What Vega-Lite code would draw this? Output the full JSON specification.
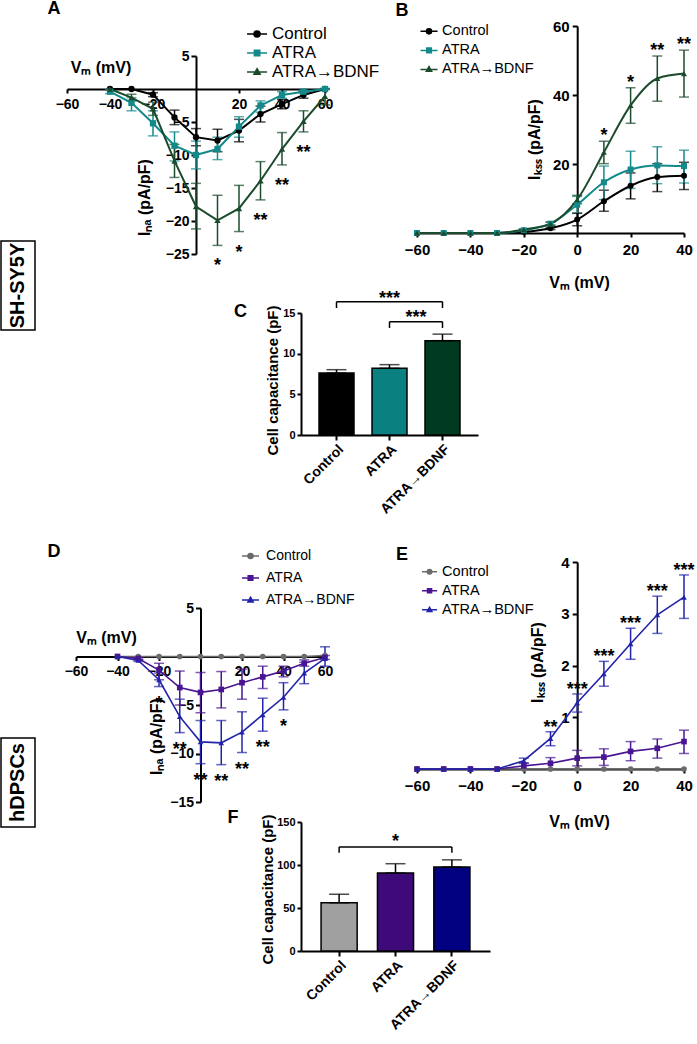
{
"$schema": "https://vega.github.io/schema/vega-lite/v6.json",
"padding": {"left": 0, "top": 0, "right": 3, "bottom": 3},
"background": "white",
"config": {
  "view": {"stroke": null},
  "font": "Liberation Sans",
  "axis": {"grid": false, "domainColor": "#000000", "domainWidth": 2, "tickColor": "#000000", "tickWidth": 2, "labelColor": "#000000", "labelFont": "Liberation Sans", "labelFontWeight": "bold", "titleFont": "Liberation Sans", "titleFontWeight": "bold", "titleColor": "#000000", "labelFlush": false, "labelOverlap": false},
  "text": {"font": "Liberation Sans", "color": "#000000"}
},
"datasets": {
  "A": [
    {"series":"Control","v":-40,"mean":0},
    {"series":"Control","v":-30,"mean":0},
    {"series":"Control","v":-20,"mean":-0.86,"lo":-1.16,"hi":-0.56},
    {"series":"Control","v":-10,"mean":-4.3,"lo":-5.4,"hi":-3.2},
    {"series":"Control","v":0,"mean":-7.3,"lo":-8.6,"hi":-6.0},
    {"series":"Control","v":10,"mean":-7.8,"lo":-9.5,"hi":-6.1},
    {"series":"Control","v":20,"mean":-6.3,"lo":-8.0,"hi":-4.6},
    {"series":"Control","v":30,"mean":-3.8,"lo":-5.0,"hi":-2.6},
    {"series":"Control","v":40,"mean":-2.3,"lo":-3.0,"hi":-1.6},
    {"series":"Control","v":50,"mean":-0.9,"lo":-1.4,"hi":-0.4},
    {"series":"Control","v":60,"mean":0},
    {"series":"ATRA","v":-40,"mean":-0.4,"lo":-0.7,"hi":-0.1},
    {"series":"ATRA","v":-30,"mean":-2.1,"lo":-3.3,"hi":-1.3},
    {"series":"ATRA","v":-20,"mean":-5.2,"lo":-7.1,"hi":-3.3},
    {"series":"ATRA","v":-10,"mean":-8.6,"lo":-10.9,"hi":-6.5},
    {"series":"ATRA","v":0,"mean":-10.0,"lo":-12.1,"hi":-7.9},
    {"series":"ATRA","v":10,"mean":-9.1,"lo":-10.7,"hi":-7.3},
    {"series":"ATRA","v":20,"mean":-5.7,"lo":-7.3,"hi":-4.2},
    {"series":"ATRA","v":30,"mean":-2.5,"lo":-3.5,"hi":-1.8},
    {"series":"ATRA","v":40,"mean":-0.9,"lo":-1.4,"hi":-0.4},
    {"series":"ATRA","v":50,"mean":-0.4,"lo":-0.6,"hi":-0.2},
    {"series":"ATRA","v":60,"mean":0,"lo":-0.1,"hi":0.1},
    {"series":"ATRA\u2192BDNF","v":-40,"mean":0},
    {"series":"ATRA\u2192BDNF","v":-30,"mean":-1.3,"lo":-1.8,"hi":-0.8},
    {"series":"ATRA\u2192BDNF","v":-20,"mean":-3.0,"lo":-4.0,"hi":-2.0},
    {"series":"ATRA\u2192BDNF","v":-10,"mean":-10.9,"lo":-13.4,"hi":-8.4},
    {"series":"ATRA\u2192BDNF","v":0,"mean":-17.8,"lo":-21.2,"hi":-14.3},
    {"series":"ATRA\u2192BDNF","v":10,"mean":-19.9,"lo":-23.7,"hi":-16.1,"sig":"*"},
    {"series":"ATRA\u2192BDNF","v":20,"mean":-18.1,"lo":-21.6,"hi":-14.6,"sig":"*"},
    {"series":"ATRA\u2192BDNF","v":30,"mean":-13.9,"lo":-16.8,"hi":-11.0,"sig":"**"},
    {"series":"ATRA\u2192BDNF","v":40,"mean":-9.1,"lo":-11.5,"hi":-6.6,"sig":"**"},
    {"series":"ATRA\u2192BDNF","v":50,"mean":-4.9,"lo":-6.5,"hi":-3.3,"sig":"**"},
    {"series":"ATRA\u2192BDNF","v":60,"mean":-1.1,"lo":-2.4,"hi":0}
  ],
  "B": [
    {"series":"Control","v":-60,"mean":0},
    {"series":"Control","v":-50,"mean":0},
    {"series":"Control","v":-40,"mean":0},
    {"series":"Control","v":-30,"mean":0},
    {"series":"Control","v":-20,"mean":0.3,"lo":0.1,"hi":0.5},
    {"series":"Control","v":-10,"mean":1.35,"lo":1.0,"hi":1.7},
    {"series":"Control","v":0,"mean":3.9,"lo":2.1,"hi":5.7},
    {"series":"Control","v":10,"mean":9.2,"lo":6.3,"hi":12.4},
    {"series":"Control","v":20,"mean":13.7,"lo":9.9,"hi":17.4},
    {"series":"Control","v":30,"mean":16.2,"lo":12.0,"hi":20.1},
    {"series":"Control","v":40,"mean":16.6,"lo":12.6,"hi":20.5},
    {"series":"ATRA","v":-60,"mean":0},
    {"series":"ATRA","v":-50,"mean":0},
    {"series":"ATRA","v":-40,"mean":0},
    {"series":"ATRA","v":-30,"mean":0},
    {"series":"ATRA","v":-20,"mean":0.8,"lo":0.6,"hi":1.0},
    {"series":"ATRA","v":-10,"mean":2.7,"lo":2.2,"hi":3.2},
    {"series":"ATRA","v":0,"mean":8.2,"lo":5.8,"hi":10.6},
    {"series":"ATRA","v":10,"mean":14.7,"lo":9.7,"hi":19.4},
    {"series":"ATRA","v":20,"mean":18.4,"lo":12.9,"hi":23.7},
    {"series":"ATRA","v":30,"mean":19.6,"lo":14.3,"hi":25.0},
    {"series":"ATRA","v":40,"mean":19.4,"lo":14.5,"hi":24.0},
    {"series":"ATRA\u2192BDNF","v":-60,"mean":0},
    {"series":"ATRA\u2192BDNF","v":-50,"mean":0},
    {"series":"ATRA\u2192BDNF","v":-40,"mean":0},
    {"series":"ATRA\u2192BDNF","v":-30,"mean":0},
    {"series":"ATRA\u2192BDNF","v":-20,"mean":1.0,"lo":0.8,"hi":1.2},
    {"series":"ATRA\u2192BDNF","v":-10,"mean":2.7,"lo":2.3,"hi":3.1},
    {"series":"ATRA\u2192BDNF","v":0,"mean":9.7,"lo":8.5,"hi":10.9},
    {"series":"ATRA\u2192BDNF","v":10,"mean":23.4,"lo":20.1,"hi":26.6,"sig":"*"},
    {"series":"ATRA\u2192BDNF","v":20,"mean":37.0,"lo":31.8,"hi":42.1,"sig":"*"},
    {"series":"ATRA\u2192BDNF","v":30,"mean":44.8,"lo":38.2,"hi":51.3,"sig":"**"},
    {"series":"ATRA\u2192BDNF","v":40,"mean":46.2,"lo":39.4,"hi":53.0,"sig":"**"}
  ],
  "D": [
    {"series":"Control","v":-40,"mean":0},
    {"series":"Control","v":-30,"mean":0},
    {"series":"Control","v":-20,"mean":0},
    {"series":"Control","v":-10,"mean":0},
    {"series":"Control","v":0,"mean":0},
    {"series":"Control","v":10,"mean":0},
    {"series":"Control","v":20,"mean":0},
    {"series":"Control","v":30,"mean":0},
    {"series":"Control","v":40,"mean":0},
    {"series":"Control","v":50,"mean":0},
    {"series":"Control","v":60,"mean":0.1},
    {"series":"ATRA","v":-40,"mean":0},
    {"series":"ATRA","v":-30,"mean":-0.2,"lo":-0.3,"hi":-0.1},
    {"series":"ATRA","v":-20,"mean":-1.4,"lo":-2.4,"hi":-0.7},
    {"series":"ATRA","v":-10,"mean":-3.2,"lo":-5.0,"hi":-1.5},
    {"series":"ATRA","v":0,"mean":-3.7,"lo":-5.8,"hi":-1.65},
    {"series":"ATRA","v":10,"mean":-3.4,"lo":-5.3,"hi":-1.55},
    {"series":"ATRA","v":20,"mean":-2.7,"lo":-4.4,"hi":-1.3},
    {"series":"ATRA","v":30,"mean":-2.1,"lo":-3.3,"hi":-1.0},
    {"series":"ATRA","v":40,"mean":-1.5,"lo":-2.1,"hi":-1.0},
    {"series":"ATRA","v":50,"mean":-0.7,"lo":-1.0,"hi":-0.35},
    {"series":"ATRA","v":60,"mean":-0.1,"lo":-0.3,"hi":0.1},
    {"series":"ATRA\u2192BDNF","v":-40,"mean":0},
    {"series":"ATRA\u2192BDNF","v":-30,"mean":-0.4,"lo":-0.5,"hi":-0.3},
    {"series":"ATRA\u2192BDNF","v":-20,"mean":-2.4,"lo":-3.1,"hi":-1.7,"sig":"*"},
    {"series":"ATRA\u2192BDNF","v":-10,"mean":-6.2,"lo":-7.85,"hi":-4.4,"sig":"**"},
    {"series":"ATRA\u2192BDNF","v":0,"mean":-8.8,"lo":-11.05,"hi":-6.6,"sig":"**"},
    {"series":"ATRA\u2192BDNF","v":10,"mean":-8.9,"lo":-11.15,"hi":-6.6,"sig":"**"},
    {"series":"ATRA\u2192BDNF","v":20,"mean":-7.8,"lo":-9.9,"hi":-5.7,"sig":"**"},
    {"series":"ATRA\u2192BDNF","v":30,"mean":-6.0,"lo":-7.7,"hi":-4.3,"sig":"**"},
    {"series":"ATRA\u2192BDNF","v":40,"mean":-4.2,"lo":-5.5,"hi":-2.7,"sig":"*"},
    {"series":"ATRA\u2192BDNF","v":50,"mean":-1.7,"lo":-2.8,"hi":-0.6},
    {"series":"ATRA\u2192BDNF","v":60,"mean":-0.2,"lo":-1.0,"hi":1.0}
  ],
  "E": [
    {"series":"Control","v":-60,"mean":0},
    {"series":"Control","v":-50,"mean":0},
    {"series":"Control","v":-40,"mean":0},
    {"series":"Control","v":-30,"mean":0},
    {"series":"Control","v":-20,"mean":0},
    {"series":"Control","v":-10,"mean":0},
    {"series":"Control","v":0,"mean":0},
    {"series":"Control","v":10,"mean":0},
    {"series":"Control","v":20,"mean":0},
    {"series":"Control","v":30,"mean":0},
    {"series":"Control","v":40,"mean":0},
    {"series":"ATRA","v":-60,"mean":0},
    {"series":"ATRA","v":-50,"mean":0},
    {"series":"ATRA","v":-40,"mean":0},
    {"series":"ATRA","v":-30,"mean":0},
    {"series":"ATRA","v":-20,"mean":0.06,"lo":0.0,"hi":0.12},
    {"series":"ATRA","v":-10,"mean":0.11,"lo":0.0,"hi":0.22},
    {"series":"ATRA","v":0,"mean":0.21,"lo":0.06,"hi":0.36},
    {"series":"ATRA","v":10,"mean":0.23,"lo":0.07,"hi":0.39},
    {"series":"ATRA","v":20,"mean":0.34,"lo":0.16,"hi":0.53},
    {"series":"ATRA","v":30,"mean":0.40,"lo":0.21,"hi":0.58},
    {"series":"ATRA","v":40,"mean":0.53,"lo":0.30,"hi":0.75},
    {"series":"ATRA\u2192BDNF","v":-60,"mean":0},
    {"series":"ATRA\u2192BDNF","v":-50,"mean":0},
    {"series":"ATRA\u2192BDNF","v":-40,"mean":0},
    {"series":"ATRA\u2192BDNF","v":-30,"mean":0},
    {"series":"ATRA\u2192BDNF","v":-20,"mean":0.16,"lo":0.11,"hi":0.21},
    {"series":"ATRA\u2192BDNF","v":-10,"mean":0.59,"lo":0.45,"hi":0.72,"sig":"**"},
    {"series":"ATRA\u2192BDNF","v":0,"mean":1.28,"lo":1.10,"hi":1.45,"sig":"***"},
    {"series":"ATRA\u2192BDNF","v":10,"mean":1.84,"lo":1.60,"hi":2.08,"sig":"***"},
    {"series":"ATRA\u2192BDNF","v":20,"mean":2.42,"lo":2.12,"hi":2.72,"sig":"***"},
    {"series":"ATRA\u2192BDNF","v":30,"mean":2.98,"lo":2.62,"hi":3.34,"sig":"***"},
    {"series":"ATRA\u2192BDNF","v":40,"mean":3.32,"lo":2.91,"hi":3.75,"sig":"***"}
  ],
  "C": [
    {"group":"Control","mean":7.62,"hi":8.03},
    {"group":"ATRA","mean":8.2,"hi":8.65},
    {"group":"ATRA\u2192BDNF","mean":11.6,"hi":12.4}
  ],
  "F": [
    {"group":"Control","mean":56,"hi":66},
    {"group":"ATRA","mean":90.7,"hi":101.5},
    {"group":"ATRA\u2192BDNF","mean":97.7,"hi":106}
  ]
},
"columns": 3,
"align": "each",
"bounds": "flush",
"spacing": 0,
"resolve": {"scale": {"color": "independent", "shape": "independent"}},
"concat": [
  {"width": 1, "height": 1, "data": {"values": []}, "mark": "point"},
  {
    "width": 266, "height": 215,
    "layer": [
      {"data": {"name": "A"}, "mark": {"type": "errorbar", "thickness": 1.5, "ticks": {"size": 10, "thickness": 1.5}},
       "encoding": {
         "x": {"field": "v", "type": "quantitative", "scale": {"domain": [-60, 60], "range": [32, 290], "nice": false, "zero": false},
               "axis": {"offset": -152, "values": [-60, -40, -20, 20, 40, 60], "labelFontSize": 14, "tickSize": 4, "labelPadding": 4, "title": "V\u2098 (mV)", "titleFontSize": 16, "titleX": 65.5, "titleY": -22, "titleAngle": 0, "titleAlign": "center", "titleBaseline": "middle"}},
         "y": {"field": "lo", "type": "quantitative", "scale": {"domain": [-25, 5], "range": [228, 30], "nice": false, "zero": false},
               "axis": {"offset": -161, "values": [5, -5, -10, -15, -20, -25], "labelFontSize": 14, "tickSize": 5, "labelPadding": 2, "title": "I\u2099\u2090 (pA/pF)", "titleFontSize": 16, "titleX": -52, "titleY": 171, "titleAngle": 270, "titleAlign": "center", "titleBaseline": "middle"}},
         "y2": {"field": "hi"},
         "color": {"field": "series", "type": "nominal", "scale": {"domain": ["Control", "ATRA", "ATRA\u2192BDNF"], "range": ["#000000", "#12898A", "#1B4B2C"]}, "legend": null}
       }},
      {"data": {"name": "A"}, "mark": {"type": "line", "strokeWidth": 2},
       "encoding": {"x": {"field": "v", "type": "quantitative"}, "y": {"field": "mean", "type": "quantitative", "title": "I\u2099\u2090 (pA/pF)"}, "color": {"field": "series", "type": "nominal", "legend": null}}},
      {"data": {"name": "A"}, "mark": {"type": "point", "filled": true, "size": 40, "opacity": 1},
       "encoding": {"x": {"field": "v", "type": "quantitative"}, "y": {"field": "mean", "type": "quantitative", "title": "I\u2099\u2090 (pA/pF)"}, "color": {"field": "series", "type": "nominal", "legend": null},
         "shape": {"field": "series", "type": "nominal", "scale": {"domain": ["Control", "ATRA", "ATRA\u2192BDNF"], "range": ["circle", "square", "triangle-up"]}, "legend": null}}},
      {"data": {"name": "A"}, "transform": [{"filter": "datum.sig"}], "mark": {"type": "text", "fontSize": 18, "fontWeight": "bold", "baseline": "alphabetic", "dy": 26},
       "encoding": {"x": {"field": "v", "type": "quantitative"}, "y": {"field": "lo", "type": "quantitative"}, "text": {"field": "sig"}}},
      {"data": {"values": [{}]}, "mark": {"type": "text", "text": "A", "fontSize": 18, "fontWeight": "bold", "baseline": "middle", "align": "center"}, "encoding": {"x": {"datum": -66}, "y": {"datum": 12.05}}},
      {"data": {"values": [{}]}, "mark": {"type": "point", "shape": "M-1,0L1,0M-0.3,0A0.3,0.3,0,1,1,0.3,0A0.3,0.3,0,1,1,-0.3,0Z", "filled": true, "color": "#000000", "stroke": "#000000", "strokeWidth": 1.5, "size": 400, "opacity": 1}, "encoding": {"x": {"datum": 28.4}, "y": {"datum": 8.33}}},
      {"data": {"values": [{}]}, "mark": {"type": "text", "text": "Control", "align": "left", "baseline": "middle", "fontSize": 17}, "encoding": {"x": {"datum": 35.3}, "y": {"datum": 8.33}}},
      {"data": {"values": [{}]}, "mark": {"type": "point", "shape": "M-1,0L1,0M-0.27,-0.27L0.27,-0.27L0.27,0.27L-0.27,0.27Z", "filled": true, "color": "#12898A", "stroke": "#12898A", "strokeWidth": 1.5, "size": 400, "opacity": 1}, "encoding": {"x": {"datum": 28.4}, "y": {"datum": 5.45}}},
      {"data": {"values": [{}]}, "mark": {"type": "text", "text": "ATRA", "align": "left", "baseline": "middle", "fontSize": 17}, "encoding": {"x": {"datum": 35.3}, "y": {"datum": 5.45}}},
      {"data": {"values": [{}]}, "mark": {"type": "point", "shape": "M-1,0L1,0M0,-0.33L0.31,0.22L-0.31,0.22Z", "filled": true, "color": "#1B4B2C", "stroke": "#1B4B2C", "strokeWidth": 1.5, "size": 400, "opacity": 1}, "encoding": {"x": {"datum": 28.4}, "y": {"datum": 2.58}}},
      {"data": {"values": [{}]}, "mark": {"type": "text", "text": "ATRA\u2192BDNF", "align": "left", "baseline": "middle", "fontSize": 17}, "encoding": {"x": {"datum": 35.3}, "y": {"datum": 2.58}}}
    ]
  },
  {
    "width": 383, "height": 207,
    "layer": [
      {"data": {"name": "B"}, "mark": {"type": "errorbar", "thickness": 1.5, "ticks": {"size": 10, "thickness": 1.5}},
       "encoding": {
         "x": {"field": "v", "type": "quantitative", "scale": {"domain": [-60, 40], "range": [116, 383], "nice": false, "zero": false},
               "axis": {"values": [-60, -40, -20, 0, 20, 40], "labelFontSize": 15, "tickSize": 4, "labelPadding": 5, "title": "V\u2098 (mV)", "titleFontSize": 16, "titleX": 278, "titleY": 49, "titleAngle": 0, "titleAlign": "center", "titleBaseline": "middle"}},
         "y": {"field": "lo", "type": "quantitative", "scale": {"domain": [0, 60], "nice": false, "zero": false},
               "axis": {"offset": -276.2, "values": [20, 40, 60], "labelFontSize": 15, "tickSize": 5, "labelPadding": 3, "title": "I\u2096\u209b\u209b (pA/pF)", "titleFontSize": 16, "titleX": -43, "titleY": 113, "titleAngle": 270, "titleAlign": "center", "titleBaseline": "middle"}},
         "y2": {"field": "hi"},
         "color": {"field": "series", "type": "nominal", "scale": {"domain": ["Control", "ATRA", "ATRA\u2192BDNF"], "range": ["#000000", "#12898A", "#1B4B2C"]}, "legend": null}
       }},
      {"data": {"name": "B"}, "mark": {"type": "line", "strokeWidth": 2, "interpolate": "monotone"},
       "encoding": {"x": {"field": "v", "type": "quantitative"}, "y": {"field": "mean", "type": "quantitative", "title": "I\u2096\u209b\u209b (pA/pF)"}, "color": {"field": "series", "type": "nominal", "legend": null}}},
      {"data": {"name": "B"}, "mark": {"type": "point", "filled": true, "size": 36, "opacity": 1},
       "encoding": {"x": {"field": "v", "type": "quantitative"}, "y": {"field": "mean", "type": "quantitative", "title": "I\u2096\u209b\u209b (pA/pF)"}, "color": {"field": "series", "type": "nominal", "legend": null},
         "shape": {"field": "series", "type": "nominal", "scale": {"domain": ["Control", "ATRA", "ATRA\u2192BDNF"], "range": ["circle", "square", "triangle-up"]}, "legend": null}}},
      {"data": {"name": "B"}, "transform": [{"filter": "datum.sig"}], "mark": {"type": "text", "fontSize": 18, "fontWeight": "bold", "baseline": "alphabetic", "dy": 0},
       "encoding": {"x": {"field": "v", "type": "quantitative"}, "y": {"field": "hi", "type": "quantitative"}, "text": {"field": "sig"}}},
      {"data": {"values": [{}]}, "mark": {"type": "text", "text": "B", "fontSize": 18, "fontWeight": "bold", "baseline": "middle", "align": "center"}, "encoding": {"x": {"datum": -65.6}, "y": {"datum": 64.22}}},
      {"data": {"values": [{}]}, "mark": {"type": "point", "shape": "M-1,0L1,0M-0.3,0A0.3,0.3,0,1,1,0.3,0A0.3,0.3,0,1,1,-0.3,0Z", "filled": true, "color": "#000000", "stroke": "#000000", "strokeWidth": 1.5, "size": 290, "opacity": 1}, "encoding": {"x": {"datum": -55.5}, "y": {"datum": 58.45}}},
      {"data": {"values": [{}]}, "mark": {"type": "text", "text": "Control", "align": "left", "baseline": "middle", "fontSize": 14.5}, "encoding": {"x": {"datum": -50.6}, "y": {"datum": 58.45}}},
      {"data": {"values": [{}]}, "mark": {"type": "point", "shape": "M-1,0L1,0M-0.27,-0.27L0.27,-0.27L0.27,0.27L-0.27,0.27Z", "filled": true, "color": "#12898A", "stroke": "#12898A", "strokeWidth": 1.5, "size": 290, "opacity": 1}, "encoding": {"x": {"datum": -55.5}, "y": {"datum": 52.93}}},
      {"data": {"values": [{}]}, "mark": {"type": "text", "text": "ATRA", "align": "left", "baseline": "middle", "fontSize": 14.5}, "encoding": {"x": {"datum": -50.6}, "y": {"datum": 52.93}}},
      {"data": {"values": [{}]}, "mark": {"type": "point", "shape": "M-1,0L1,0M0,-0.33L0.31,0.22L-0.31,0.22Z", "filled": true, "color": "#1B4B2C", "stroke": "#1B4B2C", "strokeWidth": 1.5, "size": 290, "opacity": 1}, "encoding": {"x": {"datum": -55.5}, "y": {"datum": 47.41}}},
      {"data": {"values": [{}]}, "mark": {"type": "text", "text": "ATRA\u2192BDNF", "align": "left", "baseline": "middle", "fontSize": 14.5}, "encoding": {"x": {"datum": -50.6}, "y": {"datum": 47.41}}}
    ]
  },
  {"width": 34, "height": 89, "view": {"stroke": "#000000", "strokeWidth": 1.5}, "data": {"values": [{}]}, "mark": {"type": "text", "text": "SH-SY5Y", "angle": 270, "fontSize": 20, "fontWeight": "bold", "align": "center", "baseline": "middle"}},
  {"width": 1, "height": 1, "data": {"values": []}, "mark": "point"},
  {
    "width": 177, "height": 194,
    "layer": [
      {"data": {"name": "C"}, "mark": {"type": "bar", "stroke": "#000000", "strokeWidth": 1.5},
       "encoding": {
         "x": {"field": "group", "type": "nominal", "sort": null, "scale": {"paddingInner": 0.34, "paddingOuter": 0.34},
               "axis": {"labelAngle": -45, "labelFontSize": 14, "tickSize": 5, "labelPadding": 2, "title": null}},
         "y": {"field": "mean", "type": "quantitative", "title": "Cell capacitance (pF)", "scale": {"domain": [0, 15], "range": [194, 72], "nice": false},
               "axis": {"values": [0, 5, 10, 15], "labelFontSize": 11, "tickSize": 4, "labelPadding": 2, "title": "Cell capacitance (pF)", "titleFontSize": 15, "titleX": -29, "titleY": 139, "titleAngle": 270, "titleAlign": "center", "titleBaseline": "middle"}},
         "color": {"field": "group", "type": "nominal", "scale": {"domain": ["Control", "ATRA", "ATRA\u2192BDNF"], "range": ["#000000", "#0B8081", "#003A20"]}, "legend": null}
       }},
      {"data": {"name": "C"}, "mark": {"type": "errorbar", "thickness": 1.5, "color": "#000000", "ticks": {"size": 20, "thickness": 1.5}},
       "encoding": {"x": {"field": "group", "type": "nominal", "sort": null}, "y": {"field": "mean", "type": "quantitative", "title": "Cell capacitance (pF)"}, "y2": {"field": "hi"}}},
      {"data": {"values": [{}]}, "mark": {"type": "rule", "strokeWidth": 1.5, "color": "#000000"}, "encoding": {"x": {"datum": "Control"}, "x2": {"datum": "ATRA\u2192BDNF"}, "y": {"datum": 16.39}}},
      {"data": {"values": [{}]}, "mark": {"type": "rule", "strokeWidth": 1.5, "color": "#000000"}, "encoding": {"x": {"datum": "Control"}, "y": {"datum": 16.39}, "y2": {"datum": 15.61}}},
      {"data": {"values": [{}]}, "mark": {"type": "rule", "strokeWidth": 1.5, "color": "#000000"}, "encoding": {"x": {"datum": "ATRA\u2192BDNF"}, "y": {"datum": 16.39}, "y2": {"datum": 15.61}}},
      {"data": {"values": [{}]}, "mark": {"type": "rule", "strokeWidth": 1.5, "color": "#000000"}, "encoding": {"x": {"datum": "ATRA"}, "x2": {"datum": "ATRA\u2192BDNF"}, "y": {"datum": 13.93}}},
      {"data": {"values": [{}]}, "mark": {"type": "rule", "strokeWidth": 1.5, "color": "#000000"}, "encoding": {"x": {"datum": "ATRA"}, "y": {"datum": 13.93}, "y2": {"datum": 13.16}}},
      {"data": {"values": [{}]}, "mark": {"type": "rule", "strokeWidth": 1.5, "color": "#000000"}, "encoding": {"x": {"datum": "ATRA\u2192BDNF"}, "y": {"datum": 13.93}, "y2": {"datum": 13.16}}},
      {"data": {"values": [{}]}, "mark": {"type": "text", "text": "***", "fontSize": 18, "fontWeight": "bold", "baseline": "alphabetic", "dy": 2}, "encoding": {"x": {"datum": "ATRA"}, "y": {"datum": 16.39}}},
      {"data": {"values": [{}]}, "mark": {"type": "text", "text": "***", "fontSize": 18, "fontWeight": "bold", "baseline": "alphabetic", "dy": 1, "dx": 26.5}, "encoding": {"x": {"datum": "ATRA"}, "y": {"datum": 13.93}}},
      {"data": {"values": [{}]}, "mark": {"type": "text", "text": "C", "fontSize": 18, "fontWeight": "bold", "baseline": "middle", "align": "center", "dx": -96}, "encoding": {"x": {"datum": "Control"}, "y": {"datum": 15.12}}}
    ]
  },
  {"width": 1, "height": 1, "data": {"values": []}, "mark": "point"},
  {
    "width": 266, "height": 303,
    "layer": [
      {"data": {"name": "D"}, "mark": {"type": "errorbar", "thickness": 1.5, "ticks": {"size": 10, "thickness": 1.5}},
       "encoding": {
         "x": {"field": "v", "type": "quantitative", "scale": {"domain": [-60, 60], "range": [41, 290], "nice": false, "zero": false},
               "axis": {"offset": -81.5, "values": [-60, -40, -20, 20, 40, 60], "labelFontSize": 14, "tickSize": 4, "labelPadding": 4, "title": "V\u2098 (mV)", "titleFontSize": 16, "titleX": 71, "titleY": -19.5, "titleAngle": 0, "titleAlign": "center", "titleBaseline": "middle"}},
         "y": {"field": "lo", "type": "quantitative", "scale": {"domain": [-15, 5], "range": [367, 173], "nice": false, "zero": false},
               "axis": {"offset": -165.5, "values": [5, -5, -10, -15], "labelFontSize": 14, "tickSize": 5, "labelPadding": 2, "title": "I\u2099\u2090 (pA/pF)", "titleFontSize": 16, "titleX": -44.5, "titleY": 301, "titleAngle": 270, "titleAlign": "center", "titleBaseline": "middle"}},
         "y2": {"field": "hi"},
         "color": {"field": "series", "type": "nominal", "scale": {"domain": ["Control", "ATRA", "ATRA\u2192BDNF"], "range": ["#6B6B6B", "#4A1590", "#2224A8"]}, "legend": null}
       }},
      {"data": {"name": "D"}, "mark": {"type": "line", "strokeWidth": 1.6},
       "encoding": {"x": {"field": "v", "type": "quantitative"}, "y": {"field": "mean", "type": "quantitative", "title": "I\u2099\u2090 (pA/pF)"}, "color": {"field": "series", "type": "nominal", "legend": null}}},
      {"data": {"name": "D"}, "mark": {"type": "point", "filled": true, "size": 32, "opacity": 1},
       "encoding": {"x": {"field": "v", "type": "quantitative"}, "y": {"field": "mean", "type": "quantitative", "title": "I\u2099\u2090 (pA/pF)"}, "color": {"field": "series", "type": "nominal", "legend": null},
         "shape": {"field": "series", "type": "nominal", "scale": {"domain": ["Control", "ATRA", "ATRA\u2192BDNF"], "range": ["circle", "square", "triangle-up"]}, "legend": null}}},
      {"data": {"name": "D"}, "transform": [{"filter": "datum.sig"}], "mark": {"type": "text", "fontSize": 18, "fontWeight": "bold", "baseline": "alphabetic", "dy": 22},
       "encoding": {"x": {"field": "v", "type": "quantitative"}, "y": {"field": "lo", "type": "quantitative"}, "text": {"field": "sig"}}},
      {"data": {"values": [{}]}, "mark": {"type": "text", "text": "D", "fontSize": 18, "fontWeight": "bold", "baseline": "middle", "align": "center"}, "encoding": {"x": {"datum": -70.6}, "y": {"datum": 10.77}}},
      {"data": {"values": [{}]}, "mark": {"type": "point", "shape": "M-1,0L1,0M-0.3,0A0.3,0.3,0,1,1,0.3,0A0.3,0.3,0,1,1,-0.3,0Z", "filled": true, "color": "#6B6B6B", "stroke": "#6B6B6B", "strokeWidth": 1.5, "size": 289, "opacity": 1}, "encoding": {"x": {"datum": 24.1}, "y": {"datum": 10.36}}},
      {"data": {"values": [{}]}, "mark": {"type": "text", "text": "Control", "align": "left", "baseline": "middle", "fontSize": 14}, "encoding": {"x": {"datum": 31.6}, "y": {"datum": 10.36}}},
      {"data": {"values": [{}]}, "mark": {"type": "point", "shape": "M-1,0L1,0M-0.27,-0.27L0.27,-0.27L0.27,0.27L-0.27,0.27Z", "filled": true, "color": "#4A1590", "stroke": "#4A1590", "strokeWidth": 1.5, "size": 289, "opacity": 1}, "encoding": {"x": {"datum": 24.1}, "y": {"datum": 8.09}}},
      {"data": {"values": [{}]}, "mark": {"type": "text", "text": "ATRA", "align": "left", "baseline": "middle", "fontSize": 14}, "encoding": {"x": {"datum": 31.6}, "y": {"datum": 8.09}}},
      {"data": {"values": [{}]}, "mark": {"type": "point", "shape": "M-1,0L1,0M0,-0.33L0.31,0.22L-0.31,0.22Z", "filled": true, "color": "#2224A8", "stroke": "#2224A8", "strokeWidth": 1.5, "size": 289, "opacity": 1}, "encoding": {"x": {"datum": 24.1}, "y": {"datum": 5.82}}},
      {"data": {"values": [{}]}, "mark": {"type": "text", "text": "ATRA\u2192BDNF", "align": "left", "baseline": "middle", "fontSize": 14}, "encoding": {"x": {"datum": 31.6}, "y": {"datum": 5.82}}}
    ]
  },
  {
    "width": 383, "height": 303,
    "layer": [
      {"data": {"name": "E"}, "mark": {"type": "errorbar", "thickness": 1.5, "ticks": {"size": 10, "thickness": 1.5}},
       "encoding": {
         "x": {"field": "v", "type": "quantitative", "scale": {"domain": [-60, 40], "range": [116, 383], "nice": false, "zero": false},
               "axis": {"offset": 31, "values": [-60, -40, -20, 0, 20, 40], "labelFontSize": 15, "tickSize": 4, "labelPadding": 5, "title": "V\u2098 (mV)", "titleFontSize": 16, "titleX": 278, "titleY": 52, "titleAngle": 0, "titleAlign": "center", "titleBaseline": "middle"}},
         "y": {"field": "lo", "type": "quantitative", "scale": {"domain": [0, 4], "range": [334, 127], "nice": false, "zero": false},
               "axis": {"offset": -276.2, "values": [1, 2, 3, 4], "format": "d", "labelFontSize": 15, "tickSize": 5, "labelPadding": 3, "title": "I\u2096\u209b\u209b (pA/pF)", "titleFontSize": 16, "titleX": -40, "titleY": 227, "titleAngle": 270, "titleAlign": "center", "titleBaseline": "middle"}},
         "y2": {"field": "hi"},
         "color": {"field": "series", "type": "nominal", "scale": {"domain": ["Control", "ATRA", "ATRA\u2192BDNF"], "range": ["#6B6B6B", "#4A1590", "#2224A8"]}, "legend": null}
       }},
      {"data": {"name": "E"}, "mark": {"type": "line", "strokeWidth": 1.6},
       "encoding": {"x": {"field": "v", "type": "quantitative"}, "y": {"field": "mean", "type": "quantitative", "title": "I\u2096\u209b\u209b (pA/pF)"}, "color": {"field": "series", "type": "nominal", "legend": null}}},
      {"data": {"name": "E"}, "mark": {"type": "point", "filled": true, "size": 32, "opacity": 1},
       "encoding": {"x": {"field": "v", "type": "quantitative"}, "y": {"field": "mean", "type": "quantitative", "title": "I\u2096\u209b\u209b (pA/pF)"}, "color": {"field": "series", "type": "nominal", "legend": null},
         "shape": {"field": "series", "type": "nominal", "scale": {"domain": ["Control", "ATRA", "ATRA\u2192BDNF"], "range": ["circle", "square", "triangle-up"]}, "legend": null}}},
      {"data": {"name": "E"}, "transform": [{"filter": "datum.sig"}], "mark": {"type": "text", "fontSize": 18, "fontWeight": "bold", "baseline": "alphabetic", "dy": 1},
       "encoding": {"x": {"field": "v", "type": "quantitative"}, "y": {"field": "hi", "type": "quantitative"}, "text": {"field": "sig"}}},
      {"data": {"values": [{}]}, "mark": {"type": "text", "text": "E", "fontSize": 18, "fontWeight": "bold", "baseline": "middle", "align": "center"}, "encoding": {"x": {"datum": -65.6}, "y": {"datum": 4.14}}},
      {"data": {"values": [{}]}, "mark": {"type": "point", "shape": "M-1,0L1,0M-0.3,0A0.3,0.3,0,1,1,0.3,0A0.3,0.3,0,1,1,-0.3,0Z", "filled": true, "color": "#6B6B6B", "stroke": "#6B6B6B", "strokeWidth": 1.5, "size": 225, "opacity": 1}, "encoding": {"x": {"datum": -55.3}, "y": {"datum": 3.813}}},
      {"data": {"values": [{}]}, "mark": {"type": "text", "text": "Control", "align": "left", "baseline": "middle", "fontSize": 14.5}, "encoding": {"x": {"datum": -50.6}, "y": {"datum": 3.813}}},
      {"data": {"values": [{}]}, "mark": {"type": "point", "shape": "M-1,0L1,0M-0.27,-0.27L0.27,-0.27L0.27,0.27L-0.27,0.27Z", "filled": true, "color": "#4A1590", "stroke": "#4A1590", "strokeWidth": 1.5, "size": 225, "opacity": 1}, "encoding": {"x": {"datum": -55.3}, "y": {"datum": 3.445}}},
      {"data": {"values": [{}]}, "mark": {"type": "text", "text": "ATRA", "align": "left", "baseline": "middle", "fontSize": 14.5}, "encoding": {"x": {"datum": -50.6}, "y": {"datum": 3.445}}},
      {"data": {"values": [{}]}, "mark": {"type": "point", "shape": "M-1,0L1,0M0,-0.33L0.31,0.22L-0.31,0.22Z", "filled": true, "color": "#2224A8", "stroke": "#2224A8", "strokeWidth": 1.5, "size": 225, "opacity": 1}, "encoding": {"x": {"datum": -55.3}, "y": {"datum": 3.077}}},
      {"data": {"values": [{}]}, "mark": {"type": "text", "text": "ATRA\u2192BDNF", "align": "left", "baseline": "middle", "fontSize": 14.5}, "encoding": {"x": {"datum": -50.6}, "y": {"datum": 3.077}}}
    ]
  },
  {"width": 34, "height": 89, "view": {"stroke": "#000000", "strokeWidth": 1.5}, "data": {"values": [{}]}, "mark": {"type": "text", "text": "hDPSCs", "angle": 270, "fontSize": 20, "fontWeight": "bold", "align": "center", "baseline": "middle"}},
  {"width": 1, "height": 1, "data": {"values": []}, "mark": "point"},
  {
    "width": 189, "height": 213,
    "layer": [
      {"data": {"name": "F"}, "mark": {"type": "bar", "stroke": "#000000", "strokeWidth": 1.5},
       "encoding": {
         "x": {"field": "group", "type": "nominal", "sort": null, "scale": {"paddingInner": 0.36, "paddingOuter": 0.356},
               "axis": {"labelAngle": -45, "labelFontSize": 14, "tickSize": 5, "labelPadding": 2, "title": null}},
         "y": {"field": "mean", "type": "quantitative", "title": "Cell capacitance (pF)", "scale": {"domain": [0, 150], "range": [213, 84], "nice": false},
               "axis": {"values": [0, 50, 100, 150], "labelFontSize": 11, "tickSize": 4, "labelPadding": 2, "title": "Cell capacitance (pF)", "titleFontSize": 15, "titleX": -34, "titleY": 151, "titleAngle": 270, "titleAlign": "center", "titleBaseline": "middle"}},
         "color": {"field": "group", "type": "nominal", "scale": {"domain": ["Control", "ATRA", "ATRA\u2192BDNF"], "range": ["#A0A0A0", "#3E0A7A", "#000080"]}, "legend": null}
       }},
      {"data": {"name": "F"}, "mark": {"type": "errorbar", "thickness": 1.5, "color": "#000000", "ticks": {"size": 20, "thickness": 1.5}},
       "encoding": {"x": {"field": "group", "type": "nominal", "sort": null}, "y": {"field": "mean", "type": "quantitative", "title": "Cell capacitance (pF)"}, "y2": {"field": "hi"}}},
      {"data": {"values": [{}]}, "mark": {"type": "rule", "strokeWidth": 1.5, "color": "#000000"}, "encoding": {"x": {"datum": "Control"}, "x2": {"datum": "ATRA\u2192BDNF"}, "y": {"datum": 120.9}}},
      {"data": {"values": [{}]}, "mark": {"type": "rule", "strokeWidth": 1.5, "color": "#000000"}, "encoding": {"x": {"datum": "Control"}, "y": {"datum": 120.9}, "y2": {"datum": 114.3}}},
      {"data": {"values": [{}]}, "mark": {"type": "rule", "strokeWidth": 1.5, "color": "#000000"}, "encoding": {"x": {"datum": "ATRA\u2192BDNF"}, "y": {"datum": 120.9}, "y2": {"datum": 114.3}}},
      {"data": {"values": [{}]}, "mark": {"type": "text", "text": "*", "fontSize": 18, "fontWeight": "bold", "baseline": "alphabetic", "dy": 0}, "encoding": {"x": {"datum": "ATRA"}, "y": {"datum": 120.9}}},
      {"data": {"values": [{}]}, "mark": {"type": "text", "text": "F", "fontSize": 18, "fontWeight": "bold", "baseline": "middle", "align": "center", "dx": -106, "dy": -29}, "encoding": {"x": {"datum": "Control"}, "y": {"datum": 120.9}}}
    ]
  }
]
}
